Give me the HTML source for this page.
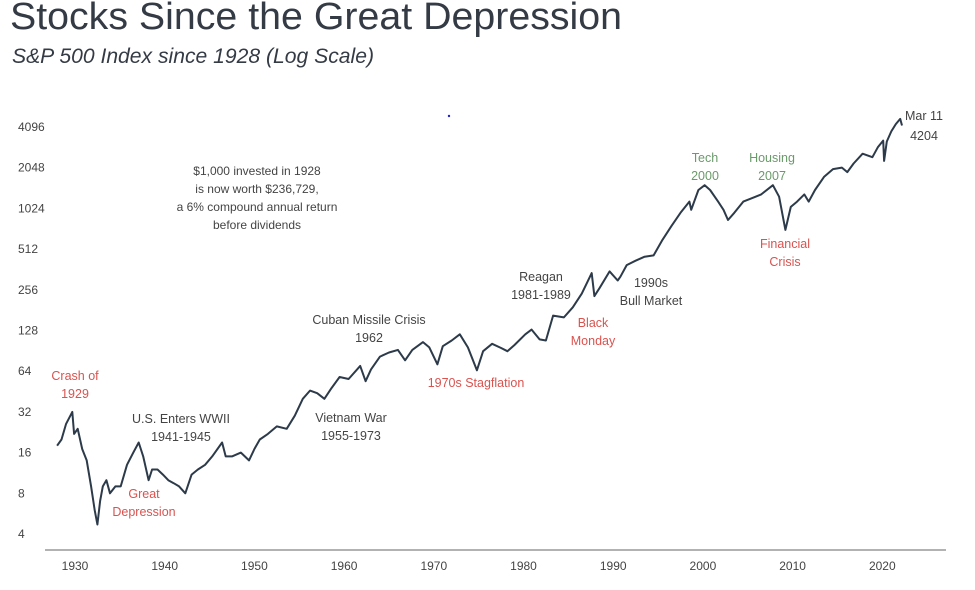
<!DOCTYPE html>
<html><head><meta charset="utf-8"><style>
body{margin:0;background:#fff;width:975px;height:590px;overflow:hidden;font-family:"Liberation Sans",sans-serif}
svg{display:block}
</style></head><body>
<svg id="chart" width="975" height="590">
<text x="10" y="29" font-size="38" fill="#343b45" textLength="612" lengthAdjust="spacingAndGlyphs">Stocks Since the Great Depression</text>
<text x="12" y="63" font-size="21" font-style="italic" fill="#343b45" textLength="362" lengthAdjust="spacingAndGlyphs">S&amp;P 500 Index since 1928 (Log Scale)</text>
<line x1="45" y1="550" x2="946" y2="550" stroke="#999" stroke-width="1.5"/>
<g id="yt"></g><g id="xt"></g>
<path id="line" fill="none" stroke="#2c3a4a" stroke-width="2" stroke-linejoin="round"/>
<g font-size="12" text-anchor="middle" fill="#444">
<text x="257" y="175">$1,000 invested in 1928</text>
<text x="257" y="193">is now worth $236,729,</text>
<text x="257" y="211">a 6% compound annual return</text>
<text x="257" y="229">before dividends</text>
</g>
<g font-size="12.5" text-anchor="middle">
<text x="75" y="380" fill="#d9534f"><tspan x="75">Crash of</tspan><tspan x="75" dy="18">1929</tspan></text>
<text x="144" y="498" fill="#d9534f"><tspan x="144">Great</tspan><tspan x="144" dy="18">Depression</tspan></text>
<text x="181" y="423" fill="#444"><tspan x="181">U.S. Enters WWII</tspan><tspan x="181" dy="18">1941-1945</tspan></text>
<text x="369" y="324" fill="#444"><tspan x="369">Cuban Missile Crisis</tspan><tspan x="369" dy="18">1962</tspan></text>
<text x="351" y="422" fill="#444"><tspan x="351">Vietnam War</tspan><tspan x="351" dy="18">1955-1973</tspan></text>
<text x="476" y="387" fill="#d9534f">1970s Stagflation</text>
<text x="541" y="281" fill="#444"><tspan x="541">Reagan</tspan><tspan x="541" dy="18">1981-1989</tspan></text>
<text x="593" y="327" fill="#d9534f"><tspan x="593">Black</tspan><tspan x="593" dy="18">Monday</tspan></text>
<text x="651" y="287" fill="#444"><tspan x="651">1990s</tspan><tspan x="651" dy="18">Bull Market</tspan></text>
<text x="705" y="162" fill="#6a9a6a"><tspan x="705">Tech</tspan><tspan x="705" dy="18">2000</tspan></text>
<text x="772" y="162" fill="#6a9a6a"><tspan x="772">Housing</tspan><tspan x="772" dy="18">2007</tspan></text>
<text x="785" y="248" fill="#d9534f"><tspan x="785">Financial</tspan><tspan x="785" dy="18">Crisis</tspan></text>
<text x="924" y="120" fill="#444"><tspan x="924">Mar 11</tspan><tspan x="924" dy="20">4204</tspan></text>
</g>
<circle cx="449" cy="116" r="1.2" fill="#22c"/>
</svg>
<script>
const yTicks=[4,8,16,32,64,128,256,512,1024,2048,4096];
const xTicks=[1930,1940,1950,1960,1970,1980,1990,2000,2010,2020];
const years=[1928,1928.5,1929,1929.7,1929.9,1930.3,1930.8,1931.3,1931.8,1932.2,1932.5,1932.8,1933.1,1933.5,1933.9,1934.5,1935.1,1935.8,1936.5,1937.1,1937.6,1938.2,1938.6,1939.2,1939.8,1940.4,1941,1941.6,1942.3,1943,1943.7,1944.5,1945.3,1946.4,1946.8,1947.5,1948.5,1949.4,1950,1950.6,1951.5,1952.5,1953.6,1954.5,1955.4,1956.2,1957,1957.8,1958.6,1959.5,1960.5,1961.8,1962.4,1963,1964,1965,1966,1966.8,1967.6,1968.8,1969.5,1970.4,1971,1972,1972.9,1973.8,1974.8,1975.5,1976.5,1977.5,1978.2,1979,1980.2,1980.9,1981.8,1982.5,1983.3,1984.5,1985.5,1986.5,1987.6,1987.9,1988.5,1989.6,1990.5,1990.8,1991.5,1992.5,1993.5,1994.5,1995.5,1996.5,1997.5,1998.5,1998.7,1999.5,2000.2,2000.8,2001.7,2002.3,2002.8,2003.5,2004.5,2005.5,2006.5,2007.8,2008.5,2009.2,2009.8,2010.5,2011.3,2011.8,2012.5,2013.5,2014.5,2015.5,2016.1,2016.8,2017.8,2018.9,2019.5,2020.1,2020.2,2020.5,2021,2021.5,2022,2022.2];
const values=[18,20,26,32,22,24,17,14,9,6,4.7,7,9,10,8,9,9,13,16,19,15,10,12,12,11,10,9.5,9,8,11,12,13,15,19,15,15,16,14,17,20,22,25,24,30,40,46,44,40,48,58,56,70,54,66,82,88,92,77,92,105,96,72,98,108,120,96,65,90,102,95,90,100,120,130,110,108,165,160,190,240,340,230,265,350,300,320,390,420,450,460,600,760,950,1150,1000,1400,1520,1400,1150,1000,840,950,1150,1220,1300,1520,1250,710,1050,1150,1300,1150,1400,1750,2000,2050,1900,2200,2600,2450,2900,3250,2300,3200,3800,4300,4700,4204];
const ys=v=>534-(Math.log2(v)-2)*40.7;
const xs=y=>75+(y-1930)*8.97;
const NS="http://www.w3.org/2000/svg";
const yt=document.getElementById('yt'),xt=document.getElementById('xt');
yTicks.forEach(v=>{const t=document.createElementNS(NS,'text');
t.setAttribute('x',18);t.setAttribute('y',ys(v)+4);t.setAttribute('font-size','12');t.setAttribute('fill','#444');t.textContent=v;


yt.appendChild(t);});
xTicks.forEach(v=>{const t=document.createElementNS(NS,'text');
t.setAttribute('x',xs(v));t.setAttribute('y',570);t.setAttribute('font-size','12');t.setAttribute('fill','#444');t.setAttribute('text-anchor','middle');t.textContent=v;


xt.appendChild(t);});
document.getElementById('line').setAttribute('d',years.map((y,i)=>(i?'L':'M')+xs(y).toFixed(1)+','+ys(values[i]).toFixed(1)).join(''));
</script>
</body></html>
